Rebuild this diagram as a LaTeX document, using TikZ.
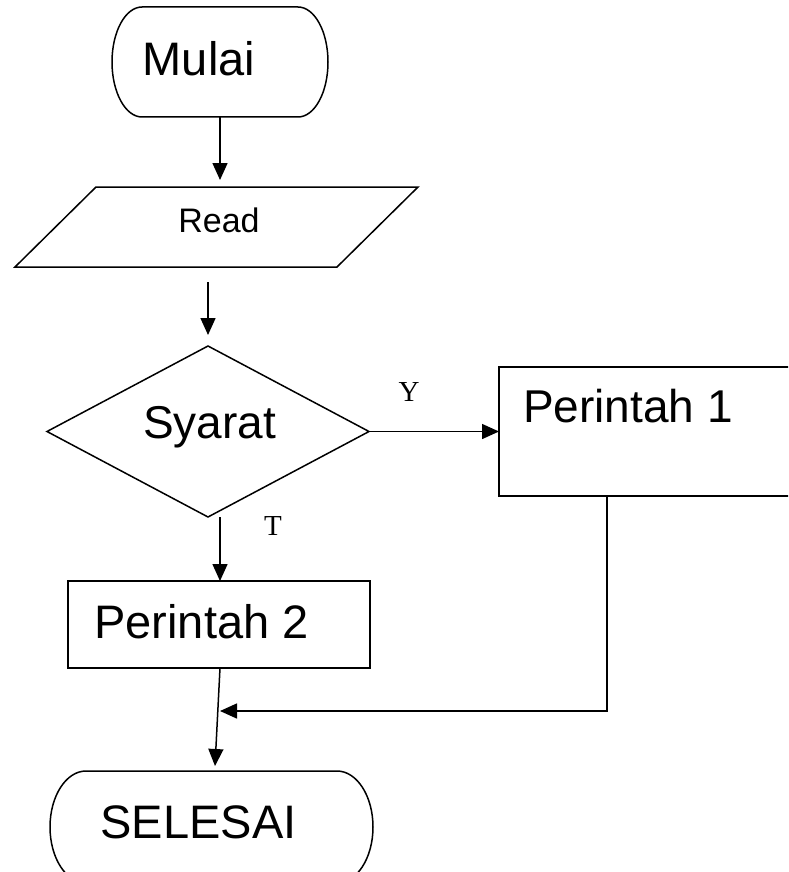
\documentclass[tikz,border=0pt]{standalone}
\usepackage{fontspec}
\setmainfont{Liberation Sans}
\newfontfamily\labelserif{Liberation Serif}
\usetikzlibrary{arrows.meta,shapes.geometric}
\begin{document}
\begin{tikzpicture}[x=1pt,y=-1pt,
  line width=1.5pt,
  arr/.style={-{Triangle[length=17pt,width=15pt]}},
  holder/.style={rectangle,draw=none,inner sep=0pt,outer sep=0pt},
  boxshape/.style={rectangle,draw,inner sep=0pt,outer sep=0pt},
  bigtext/.style={font=\fontsize{47pt}{56pt}\selectfont,anchor=base,inner sep=0pt},
  smalltext/.style={font=\fontsize{34pt}{40pt}\selectfont,anchor=base,inner sep=0pt},
  branchlabel/.style={font=\labelserif\fontsize{29pt}{34pt}\selectfont,anchor=base,inner sep=0pt}]
\useasboundingbox (0,0) rectangle (788,872);
\clip (0,0) rectangle (788,872);

% Mulai terminal
\node[holder,minimum width=216pt,minimum height=110pt] (mulai) at (220,62) {};
\draw ([xshift=30pt]mulai.north west) -- ([xshift=-30pt]mulai.north east)
  arc[start angle=90,end angle=-90,x radius=30pt,y radius=55pt]
  -- ([xshift=30pt]mulai.south west)
  arc[start angle=270,end angle=90,x radius=30pt,y radius=55pt] -- cycle;
\node[bigtext] (mulaitxt) at (199,76) {Mulai};

% Read parallelogram
\node[holder,minimum width=403pt,minimum height=80pt] (read) at (216.5,227) {};
\draw ([xshift=81pt]read.north west) -- (read.north east)
  -- ([xshift=-81pt]read.south east) -- (read.south west) -- cycle;
\node[smalltext] (readtxt) at (219,232) {Read};

% Decision
\node[diamond,draw,minimum width=322pt,minimum height=171pt,inner sep=0pt,outer sep=0pt] (dia) at (208,431.5) {};
\node[font=\fontsize{46pt}{55pt}\selectfont,anchor=base,inner sep=0pt] (diatxt) at (209.5,438) {Syarat};

% Perintah 1
\node[boxshape,minimum width=293pt,minimum height=129pt] (p1) at (645.5,431.5) {};
\node[font=\fontsize{46pt}{55pt}\selectfont,anchor=base,inner sep=0pt] (p1txt) at (628,422) {Perintah 1};

% Perintah 2
\node[boxshape,minimum width=302pt,minimum height=87pt] (p2) at (219,624.5) {};
\node[bigtext] (p2txt) at (201.5,638) {Perintah 2};

% Selesai terminal
\node[holder,minimum width=323pt,minimum height=112pt] (selesai) at (211.5,827) {};
\draw ([xshift=36pt]selesai.north west) -- ([xshift=-36pt]selesai.north east)
  arc[start angle=90,end angle=-90,x radius=36pt,y radius=56pt]
  -- ([xshift=36pt]selesai.south west)
  arc[start angle=270,end angle=90,x radius=36pt,y radius=56pt] -- cycle;
\node[bigtext] (seltxt) at (198.5,838) {SELESAI};

% Labels
\node[branchlabel] (ylab) at (409,401) {Y};
\node[branchlabel] (tlab) at (273,535) {T};

% Connectors
\draw[arr] (mulai.south) -- ([yshift=7pt]mulai.south |- read.north);
\draw[arr] ([yshift=-15pt]read.south -| dia.north) -- ([yshift=11pt]dia.north);
\draw[arr] (dia.east) -- (p1.west);
\draw[arr] ([xshift=12pt]dia.south) -- ([xshift=12pt]dia.south |- p2.north);
\draw[arr] ([xshift=1pt]p2.south) -- ([xshift=3.5pt,yshift=5pt]selesai.north);
\coordinate (join) at (220,711);
\draw[arr] ([xshift=-38.5pt]p1.south) |- (join);
\end{tikzpicture}
\end{document}
